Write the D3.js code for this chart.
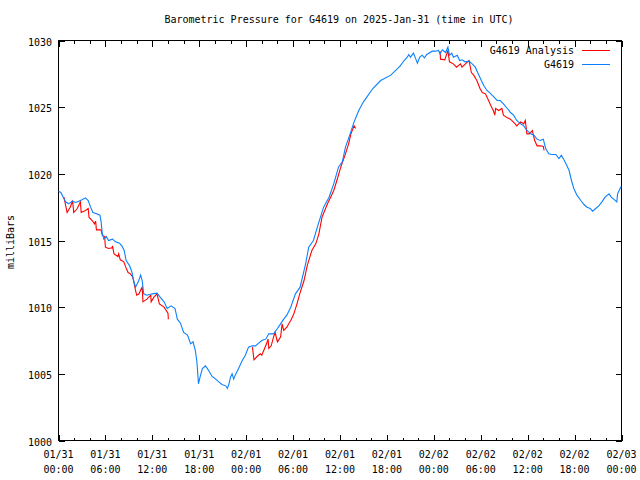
<!DOCTYPE html>
<html><head><meta charset="utf-8">
<script src="https://cdn.jsdelivr.net/npm/d3@7"></script>
<style>body{margin:0;background:#fff}svg{display:block}text{font-family:"DejaVu Sans Mono",monospace;font-size:10px;fill:#000}</style>
</head><body><svg id="c" width="640" height="480"></svg>
<script>
// hours after 2025-01-31 00:00 UTC
const blueHours = [0.0,0.3,0.9,1.3,1.75,2.2,2.6,3.0,3.45,3.8,4.1,4.4,4.9,5.3,5.45,5.6,5.8,6.1,6.4,6.9,7.3,7.8,8.1,8.4,8.65,9.1,9.4,9.6,9.85,10.2,10.5,10.7,10.9,11.3,12.0,12.6,13.0,13.5,13.9,14.4,14.9,15.2,15.6,16.0,16.5,16.9,17.2,17.5,17.7,17.9,18.1,18.4,18.8,19.2,19.65,20.1,20.5,20.9,21.4,21.6,21.8,22.0,22.2,22.4,22.6,23.1,23.5,23.9,24.3,24.8,25.2,25.6,26.0,26.5,26.9,27.5,28.0,28.4,28.8,29.2,29.7,30.3,30.9,31.6,32.0,32.6,33.1,33.9,34.6,35.2,35.8,36.3,36.7,37.3,37.8,38.4,39.0,40.2,41.2,42.5,43.7,44.2,44.6,44.8,45.0,45.4,45.7,45.9,46.2,46.5,46.8,47.1,47.5,47.8,48.2,48.6,48.8,49.1,49.5,49.8,50.0,50.3,50.5,51.0,51.3,51.6,52.0,52.5,52.9,53.3,53.6,54.0,54.4,54.8,55.2,55.7,56.1,56.5,56.9,57.4,57.8,58.2,58.6,59.1,59.5,59.9,60.4,60.8,61.2,61.6,62.0,62.3,62.7,63.1,63.6,64.0,64.3,64.6,64.9,65.3,65.6,65.9,66.3,66.8,67.2,67.6,68.0,68.3,68.7,69.1,69.5,69.9,70.4,70.7,71.0,71.4,71.5,71.9,72.0];
const blueValues = [1018.7,1018.6,1017.9,1017.75,1017.95,1017.85,1017.95,1018.05,1018.2,1018.0,1017.5,1017.1,1017.0,1016.9,1016.4,1015.5,1015.1,1015.3,1015.0,1015.1,1014.9,1014.8,1014.6,1014.25,1013.5,1013.1,1012.6,1012.0,1011.5,1011.9,1012.4,1012.0,1011.0,1010.9,1011.0,1011.05,1010.75,1010.4,1009.9,1010.1,1009.9,1009.1,1008.8,1008.1,1007.9,1007.25,1007.4,1006.75,1005.9,1004.25,1004.75,1005.4,1005.6,1005.25,1004.8,1004.6,1004.4,1004.2,1004.1,1003.9,1004.25,1004.75,1005.0,1004.6,1004.9,1005.5,1006.0,1006.4,1007.0,1007.1,1007.1,1007.3,1007.5,1007.6,1008.0,1008.0,1008.4,1008.75,1009.1,1009.4,1010.0,1011.0,1011.5,1013.25,1014.5,1015.0,1016.0,1017.5,1018.25,1019.25,1020.5,1020.9,1022.0,1023.0,1023.9,1024.75,1025.4,1026.4,1027.0,1027.4,1028.1,1028.5,1028.75,1028.95,1028.75,1029.05,1028.6,1028.3,1028.75,1028.9,1028.7,1028.95,1029.1,1029.2,1029.2,1029.25,1029.0,1029.3,1029.1,1029.5,1028.9,1029.05,1028.75,1028.9,1028.5,1028.55,1028.4,1028.45,1028.25,1028.0,1027.6,1027.1,1026.6,1026.25,1026.05,1025.75,1025.5,1025.5,1025.25,1024.9,1024.6,1024.4,1024.0,1023.75,1023.6,1023.25,1023.0,1022.9,1022.6,1022.5,1022.6,1021.9,1021.5,1021.45,1021.45,1021.15,1021.4,1021.1,1020.75,1020.25,1019.5,1018.9,1018.4,1018.0,1017.7,1017.5,1017.4,1017.2,1017.4,1017.6,1017.9,1018.25,1018.5,1018.25,1018.1,1017.9,1018.5,1019.0,1019.0];
const redHours = [0.7,1.1,1.5,1.8,1.95,2.4,2.8,2.9,3.45,3.8,3.9,4.3,4.6,4.75,4.85,5.45,5.6,5.9,6.0,6.4,6.85,6.9,7.1,7.6,7.7,7.9,8.35,8.6,8.9,9.2,9.5,9.6,9.85,10.0,10.3,10.6,10.7,10.8,11.3,11.8,11.85,12.2,12.6,12.9,13.5,14.0,14.05,
  14.1,
  24.8,25.0,25.4,25.8,26.0,26.25,26.6,26.8,26.9,27.2,27.5,27.7,28.0,28.4,28.6,28.8,29.2,29.45,29.7,30.1,30.5,30.85,31.4,31.8,32.4,32.9,33.3,33.7,34.4,34.8,35.2,35.6,36.1,36.7,37.1,37.4,37.8,38.0,
  38.1,
  48.8,48.85,49.4,49.8,50.0,50.5,50.9,51.4,51.6,52.5,52.8,53.1,53.5,53.9,54.2,54.6,55.0,55.3,55.6,55.8,55.9,56.3,56.7,56.9,57.4,57.8,58.4,58.6,59.1,59.5,59.7,59.9,60.2,60.6,60.9,61.2,61.6,62.0,62.1];
const redValues = [1018.25,1017.1,1017.5,1018.0,1017.1,1017.4,1017.9,1017.1,1017.25,1017.4,1016.75,1016.5,1016.25,1016.45,1015.8,1015.8,1015.4,1015.3,1014.5,1014.4,1014.45,1014.6,1014.0,1013.8,1014.0,1013.55,1013.4,1013.0,1012.6,1012.5,1012.25,1012.0,1011.25,1010.9,1011.0,1011.4,1011.5,1010.4,1010.6,1010.9,1010.4,1010.75,1011.0,1010.25,1010.0,1009.55,1009.1,
  null,
  1007.0,1006.05,1006.3,1006.5,1006.4,1006.75,1007.25,1007.6,1006.9,1007.1,1007.75,1008.1,1007.4,1007.75,1008.75,1008.25,1008.5,1008.75,1009.0,1009.5,1010.25,1011.0,1012.0,1013.1,1014.25,1014.75,1015.5,1016.75,1017.75,1018.25,1018.75,1019.5,1020.5,1021.5,1022.25,1023.0,1023.6,1023.4,
  null,
  1029.2,1028.6,1028.55,1029.25,1028.4,1028.25,1028.0,1028.25,1028.0,1028.5,1027.6,1027.4,1027.0,1026.4,1026.1,1026.0,1025.5,1025.1,1024.75,1024.4,1024.9,1024.75,1024.9,1024.4,1024.2,1024.1,1023.75,1023.6,1023.9,1023.75,1024.0,1023.0,1023.0,1023.25,1022.5,1022.1,1022.1,1022.05,1021.75];
const yTicks = [1000,1005,1010,1015,1020,1025,1030];
const seriesNames = ["G4619 Analysis","G4619"];
const seriesColors = ["#ff0000","#0a80ff"];
const titleText = "Barometric Pressure for G4619 on 2025-Jan-31 (time in UTC)";
const yLabel = "milliBars";

const start = Date.UTC(2025,0,31,0,0);
const toDate = h => new Date(start + h*3600e3);
const L=58.5, R=621.5, T=40.5, B=440.5;
const x = d3.scaleUtc().domain([toDate(0), toDate(72)]).range([L,R]);
const y = d3.scaleLinear().domain([1000,1030]).range([B,T]);
const svg = d3.select("#c");

svg.append("text").attr("x",339).attr("y",23).attr("text-anchor","middle").text(titleText);
svg.append("text").attr("transform","translate(14,242) rotate(-90)").attr("text-anchor","middle").text(yLabel);

const majors = d3.range(0,73,6).map(toDate);
const minors = d3.range(0,73,2).filter(h=>h%6!==0).map(toDate);
const g = svg.append("g").attr("stroke","#000").attr("stroke-width",1).attr("shape-rendering","crispEdges");
majors.forEach(d=>{const px=Math.round(x(d))+0.5;
  g.append("line").attr("x1",px).attr("x2",px).attr("y1",B).attr("y2",B-6);
  g.append("line").attr("x1",px).attr("x2",px).attr("y1",T).attr("y2",T+6);});
minors.forEach(d=>{const px=Math.round(x(d))+0.5;
  g.append("line").attr("x1",px).attr("x2",px).attr("y1",B).attr("y2",B-3);
  g.append("line").attr("x1",px).attr("x2",px).attr("y1",T).attr("y2",T+3);});
yTicks.forEach(v=>{const py=Math.round(y(v))+0.5;
  g.append("line").attr("x1",L).attr("x2",L+6).attr("y1",py).attr("y2",py);
  g.append("line").attr("x1",R).attr("x2",R-6).attr("y1",py).attr("y2",py);
  svg.append("text").attr("x",52).attr("y",py+4).attr("text-anchor","end").text(v);});
const fD=d3.utcFormat("%m/%d"), fT=d3.utcFormat("%H:%M");
majors.forEach(d=>{const t=svg.append("text").attr("text-anchor","middle").attr("x",x(d));
  t.append("tspan").attr("x",x(d)).attr("y",458).text(fD(d));
  t.append("tspan").attr("x",x(d)).attr("y",473).text(fT(d));});

const line = d3.line().defined(d=>d[1]!==null).x(d=>x(toDate(d[0]))).y(d=>y(d[1]));
const redData = redHours.map((h,i)=>[h,redValues[i]]);
const blueData = blueHours.map((h,i)=>[h,blueValues[i]]);
svg.append("path").datum(redData).attr("d",line).attr("fill","none").attr("stroke",seriesColors[0]).attr("stroke-width",1.1);
svg.append("path").datum(blueData).attr("d",line).attr("fill","none").attr("stroke",seriesColors[1]).attr("stroke-width",1.1);

g.append("rect").attr("x",L).attr("y",T).attr("width",R-L).attr("height",B-T).attr("fill","none");

seriesNames.forEach((n,i)=>{const yy=50+i*13.5;
  svg.append("text").attr("x",574).attr("y",yy+4).attr("text-anchor","end").text(n);
  svg.append("line").attr("x1",582).attr("x2",610).attr("y1",Math.round(yy)+0.5).attr("y2",Math.round(yy)+0.5).attr("stroke",seriesColors[i]).attr("shape-rendering","crispEdges");});
</script></body></html>
